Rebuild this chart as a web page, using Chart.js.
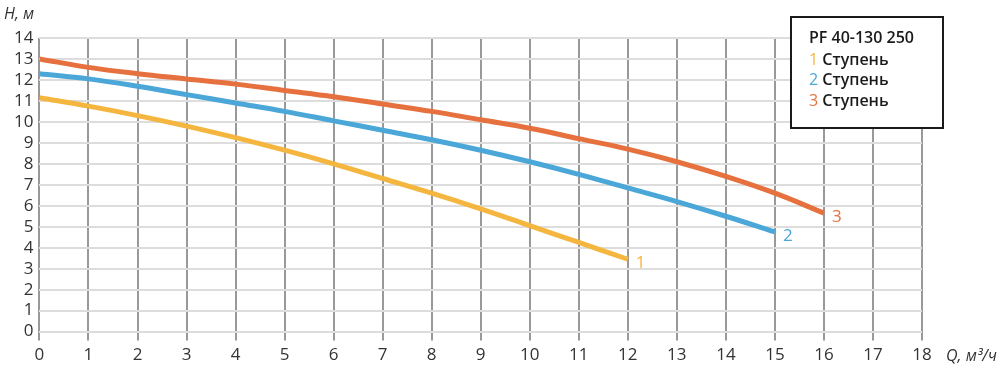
<!DOCTYPE html>
<html>
<head>
<meta charset="utf-8">
<script src="https://cdn.jsdelivr.net/npm/chart.js@4/dist/chart.umd.min.js"></script>
<style>
  html, body { margin: 0; padding: 0; background: #fff; }
  #wrap { width: 1000px; height: 369px; }
</style>
</head>
<body>
<div id="wrap"><canvas id="pumpChart" width="1000" height="369"></canvas></div>
<script>
// pump curves H(Q) for PF 40-130 250
const flow = [0, 1, 2, 3, 4, 5, 6, 7, 8, 9, 10, 11, 12, 13, 14, 15, 16];
const stage1 = [11.15, 10.75, 10.3, 9.8, 9.25, 8.65, 8.0, 7.3, 6.6, 5.85, 5.05, 4.25, 3.45];
const stage2 = [12.3, 12.05, 11.7, 11.3, 10.9, 10.5, 10.05, 9.6, 9.15, 8.65, 8.1, 7.5, 6.85, 6.2, 5.5, 4.75];
const stage3 = [13.0, 12.6, 12.3, 12.05, 11.8, 11.5, 11.2, 10.85, 10.5, 10.1, 9.7, 9.2, 8.7, 8.1, 7.4, 6.6, 5.65];
const stageNames = ['1', '2', '3'];
const legendTitle = 'PF 40-130 250';
const legendText = 'Ступень';
const colors = ['#f4b63f', '#4aa7d8', '#e6713f'];

const FONT = '"Open Sans", "Noto Sans", sans-serif';

function toPoints(vals) {
  return vals.map((v, i) => ({ x: flow[i], y: v }));
}

const decorations = {
  id: 'decorations',
  afterDatasetsDraw(chart) {
    const { ctx, scales: { x, y } } = chart;
    ctx.save();
    // end-of-curve labels
    ctx.font = '17px ' + FONT;
    ctx.textBaseline = 'middle';
    ctx.textAlign = 'left';
    chart.data.datasets.forEach((ds, i) => {
      const last = ds.data[ds.data.length - 1];
      ctx.fillStyle = colors[i];
      ctx.fillText(stageNames[i], x.getPixelForValue(last.x) + 8, y.getPixelForValue(last.y) + 4);
    });
    // axis titles
    ctx.fillStyle = '#333';
    ctx.font = 'italic 16px ' + FONT;
    ctx.textAlign = 'left';
    ctx.fillText('H, м', 4, 14);
    ctx.fillText('Q, м³/ч', 946, 356);
    // legend box
    const bx = 791, by = 17, bw = 152, bh = 111;
    ctx.fillStyle = '#fff';
    ctx.fillRect(bx, by, bw, bh);
    ctx.strokeStyle = '#1a1a1a';
    ctx.lineWidth = 2;
    ctx.strokeRect(bx, by, bw, bh);
    ctx.font = '600 16px ' + FONT;
    ctx.fillStyle = '#1a1a1a';
    ctx.fillText(legendTitle, bx + 18, by + 21);
    stageNames.forEach((n, i) => {
      const ty = by + 43 + i * 20.5;
      ctx.font = '16px ' + FONT;
      ctx.fillStyle = colors[i];
      ctx.fillText(n, bx + 18, ty);
      const w = ctx.measureText(n + ' ').width;
      ctx.font = '600 16px ' + FONT;
      ctx.fillStyle = '#1a1a1a';
      ctx.fillText(legendText, bx + 18 + w, ty);
    });
    ctx.restore();
  }
};

const ctx = document.getElementById('pumpChart').getContext('2d');
new Chart(ctx, {
  type: 'line',
  data: {
    datasets: [stage1, stage2, stage3].map((s, i) => ({
      label: stageNames[i],
      data: toPoints(s),
      borderColor: colors[i],
      borderWidth: 5,
      pointRadius: 0,
      tension: 0.4,
      fill: false,
      borderCapStyle: 'butt'
    }))
  },
  options: {
    responsive: false,
    animation: false,
    layout: { padding: { left: 8, right: 78, top: 38, bottom: 0 } },
    plugins: { legend: { display: false }, tooltip: { enabled: false } },
    scales: {
      x: {
        type: 'linear', min: 0, max: 18,
        ticks: { stepSize: 1, autoSkip: false, color: '#333', font: { family: FONT, size: 17 }, padding: 4 },
        grid: { color: '#999999', lineWidth: 2, tickLength: 9 },
        border: { display: false }
      },
      y: {
        min: 0, max: 14,
        ticks: { stepSize: 1, autoSkip: false, color: '#333', font: { family: FONT, size: 17 }, padding: 6 },
        grid: { color: '#dddddd', lineWidth: 2, drawTicks: false },
        border: { display: false }
      }
    }
  },
  plugins: [decorations]
});
</script>
</body>
</html>
